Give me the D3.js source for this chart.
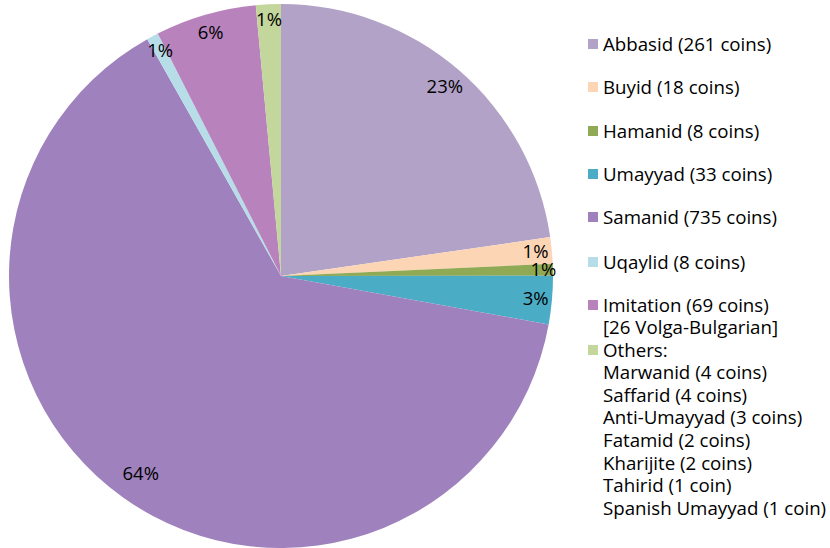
<!DOCTYPE html>
<html>
<head>
<meta charset="utf-8">
<script src="https://cdn.jsdelivr.net/npm/d3@7"></script>
<style>
  body { margin: 0; background: #fff; }
  text { font-family: "Open Sans", Lato, sans-serif; fill: #000; }
</style>
</head>
<body>
<div id="chart"></div>
<script>
// coin finds by dynasty, clockwise from 12 o'clock
var dynasties = ["Abbasid", "Buyid", "Hamanid", "Umayyad", "Samanid", "Uqaylid", "Imitation", "Others"];
var coins = [261, 18, 8, 33, 735, 8, 69, 17];
var pctLabels = ["23%", "1%", "1%", "3%", "64%", "1%", "6%", "1%"];
var colors = ["#B2A2C7", "#FCD5B5", "#8FA954", "#4BACC6", "#9F82BD", "#B7DEE8", "#B883BC", "#C3D69B"];

// legend text, one array of lines per slice
var legendLines = [
  ["Abbasid (261 coins)"],
  ["Buyid (18 coins)"],
  ["Hamanid (8 coins)"],
  ["Umayyad (33 coins)"],
  ["Samanid (735 coins)"],
  ["Uqaylid (8 coins)"],
  ["Imitation (69 coins)", "[26 Volga-Bulgarian]"],
  ["Others:", "Marwanid (4 coins)", "Saffarid (4 coins)", "Anti-Umayyad (3 coins)",
   "Fatamid (2 coins)", "Kharijite (2 coins)", "Tahirid (1 coin)", "Spanish Umayyad (1 coin)"]
];

var W = 830, H = 548;
var cx = 281, cy = 276, R = 272;

var svg = d3.select("#chart").append("svg")
    .attr("width", W)
    .attr("height", H);

var data = dynasties.map(function(d, i) {
    return {name: d, value: coins[i], label: pctLabels[i], color: colors[i]};
});

var pie = d3.pie()
    .sort(null)
    .value(function(d) { return d.value; });

var arc = d3.arc().innerRadius(0).outerRadius(R);

var g = svg.append("g")
    .attr("transform", "translate(" + cx + "," + cy + ")");

g.selectAll("path")
    .data(pie(data))
    .enter()
    .append("path")
    .attr("d", arc)
    .style("fill", function(d) { return d.data.color; });

// how far out each % label sits (fraction of radius), like excel's best fit
var labelK = [0.92, 0.94, 0.965, 0.94, 0.89, 0.94, 0.93, 0.945];

g.selectAll("text.pct")
    .data(pie(data))
    .enter()
    .append("text")
    .attr("class", "pct")
    .attr("transform", function(d, i) {
        var k = labelK[i];
        var a = (d.startAngle + d.endAngle) / 2;
        return "translate(" + (Math.sin(a) * R * k) + "," + (-Math.cos(a) * R * k) + ")";
    })
    .attr("text-anchor", "middle")
    .attr("dy", "0.35em")
    .style("font-size", "18.5px")
    .text(function(d) { return d.data.label; });

// legend
var legendX = 588, lineH = 22.6;
var itemY = [44, 87, 131, 174, 217, 262, 305, 350];

var legend = svg.selectAll(".legend")
    .data(data)
    .enter()
    .append("g")
    .attr("class", "legend")
    .attr("transform", function(d, i) { return "translate(" + legendX + "," + itemY[i] + ")"; });

legend.append("rect")
    .attr("x", 0)
    .attr("y", -5)
    .attr("width", 10)
    .attr("height", 10)
    .style("fill", function(d) { return d.color; });

legend.append("text")
    .attr("x", 15)
    .style("font-size", "18.7px")
    .selectAll("tspan")
    .data(function(d, i) { return legendLines[i]; })
    .enter()
    .append("tspan")
    .attr("x", 15)
    .attr("y", function(d, j) { return j * lineH; })
    .attr("dy", "0.35em")
    .text(function(d) { return d; });
</script>
</body>
</html>
